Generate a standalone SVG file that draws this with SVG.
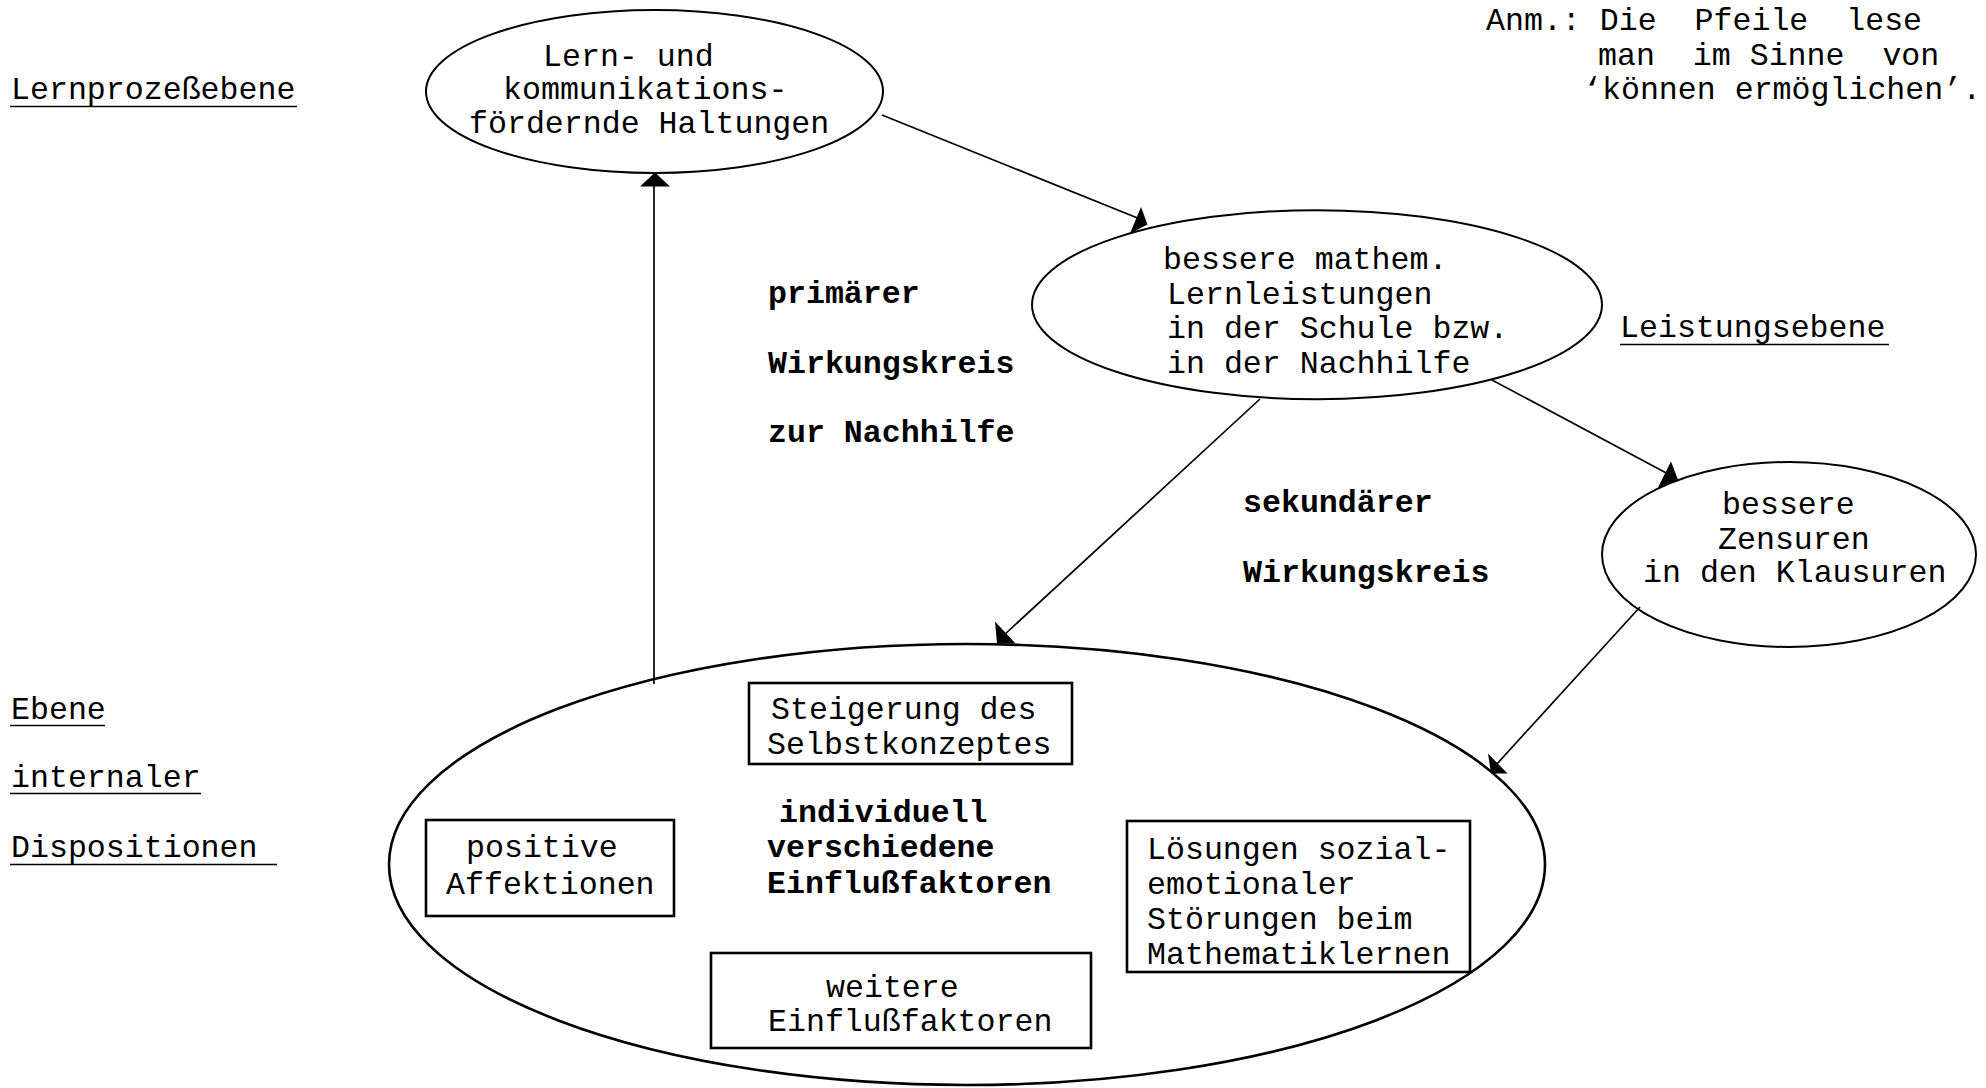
<svg xmlns="http://www.w3.org/2000/svg" width="1986" height="1088" viewBox="0 0 1986 1088">
  <style>
    text { font-family: "Liberation Mono", "Courier New", monospace; font-size: 31.6px; fill: #000; white-space: pre; }
    .b { font-weight: bold; }
    .shape { fill: none; stroke: #000; stroke-width: 2; }
    .big { stroke-width: 2.6; }
    .box { fill: none; stroke: #000; stroke-width: 2.6; }
    .edge { stroke: #000; stroke-width: 1.7; fill: none; }
    .head { fill: #000; stroke: none; }
    .ul { stroke: #000; stroke-width: 1.6; }
  </style>
  <rect width="1986" height="1088" fill="#fff"/>

  <!-- level labels -->
  <g id="level-labels">
    <text x="11" y="99">Lernprozeßebene</text>
    <line class="ul" x1="10" y1="106.5" x2="297" y2="106.5"/>
    <text x="1620" y="337">Leistungsebene</text>
    <line class="ul" x1="1620" y1="344.5" x2="1889" y2="344.5"/>
    <text x="11" y="719">Ebene</text>
    <line class="ul" x1="10" y1="725.5" x2="105" y2="725.5"/>
    <text x="11" y="787">internaler</text>
    <line class="ul" x1="10" y1="793.5" x2="201" y2="793.5"/>
    <text x="11" y="857">Dispositionen </text>
    <line class="ul" x1="10" y1="864.5" x2="277" y2="864.5"/>
  </g>

  <!-- note on reading the arrows -->
  <g id="note">
    <text x="1486" y="30">Anm.: Die  Pfeile  lese</text>
    <text x="1598" y="65">man  im Sinne  von</text>
    <text x="1583" y="99">‘können ermöglichen’.</text>
  </g>

  <!-- circle labels -->
  <g id="circle-labels">
    <text class="b" x="768" y="303">primärer</text>
    <text class="b" x="768" y="373">Wirkungskreis</text>
    <text class="b" x="768" y="442">zur Nachhilfe</text>
    <text class="b" x="1243" y="512">sekundärer</text>
    <text class="b" x="1243" y="582">Wirkungskreis</text>
  </g>

  <!-- connectors -->
  <g id="connectors">
    <line class="edge" x1="882" y1="115" x2="1140" y2="219"/>
    <polygon class="head" points="1130,233.5 1141,207 1147.5,224.5"/>
    <line class="edge" x1="1492" y1="380" x2="1670" y2="475"/>
    <polygon class="head" points="1658,487.5 1671,461.5 1678.5,481"/>
    <line class="edge" x1="1260" y1="399" x2="1003" y2="636"/>
    <polygon class="head" points="997,643.5 995,621.5 1015.5,643.5"/>
    <line class="edge" x1="1640" y1="607" x2="1496" y2="765"/>
    <polygon class="head" points="1491,773.5 1488,753.5 1507.5,773.5"/>
    <line class="edge" x1="654" y1="684" x2="654" y2="185"/>
    <polygon class="head" points="655,172.5 640,186.5 670,186.5"/>
  </g>

  <g id="node-haltungen">
    <ellipse class="shape" cx="654.5" cy="91.5" rx="228.5" ry="81.5"/>
    <text x="543" y="66">Lern- und</text>
    <text x="503" y="99">kommunikations-</text>
    <text x="469" y="133">fördernde Haltungen</text>
  </g>

  <g id="node-lernleistungen">
    <ellipse class="shape" cx="1317" cy="304.7" rx="285" ry="94.5"/>
    <text x="1163" y="269">bessere mathem.</text>
    <text x="1167" y="304">Lernleistungen</text>
    <text x="1167" y="338">in der Schule bzw.</text>
    <text x="1167" y="373">in der Nachhilfe</text>
  </g>

  <g id="node-zensuren">
    <ellipse class="shape" cx="1789" cy="554.5" rx="187" ry="92.5"/>
    <text x="1722" y="514">bessere</text>
    <text x="1718" y="549">Zensuren</text>
    <text x="1643" y="582">in den Klausuren</text>
  </g>

  <g id="node-dispositionen">
    <ellipse class="shape big" cx="967" cy="864.5" rx="578" ry="220.5"/>
    <text class="b" x="779" y="822">individuell</text>
    <text class="b" x="767" y="857">verschiedene</text>
    <text class="b" x="767" y="893">Einflußfaktoren</text>
  </g>

  <g id="node-selbstkonzept">
    <rect class="box" x="749" y="683" width="323" height="81"/>
    <text x="771" y="719">Steigerung des</text>
    <text x="767" y="754">Selbstkonzeptes</text>
  </g>

  <g id="node-affektionen">
    <rect class="box" x="426" y="820" width="248" height="96"/>
    <text x="466" y="857">positive</text>
    <text x="446" y="894">Affektionen</text>
  </g>

  <g id="node-stoerungen">
    <rect class="box" x="1127" y="821" width="343" height="151"/>
    <text x="1147" y="859">Lösungen sozial-</text>
    <text x="1147" y="894">emotionaler</text>
    <text x="1147" y="929">Störungen beim</text>
    <text x="1147" y="964">Mathematiklernen</text>
  </g>

  <g id="node-weitere">
    <rect class="box" x="711" y="953" width="380" height="95"/>
    <text x="826" y="997">weitere</text>
    <text x="768" y="1031">Einflußfaktoren</text>
  </g>
</svg>
